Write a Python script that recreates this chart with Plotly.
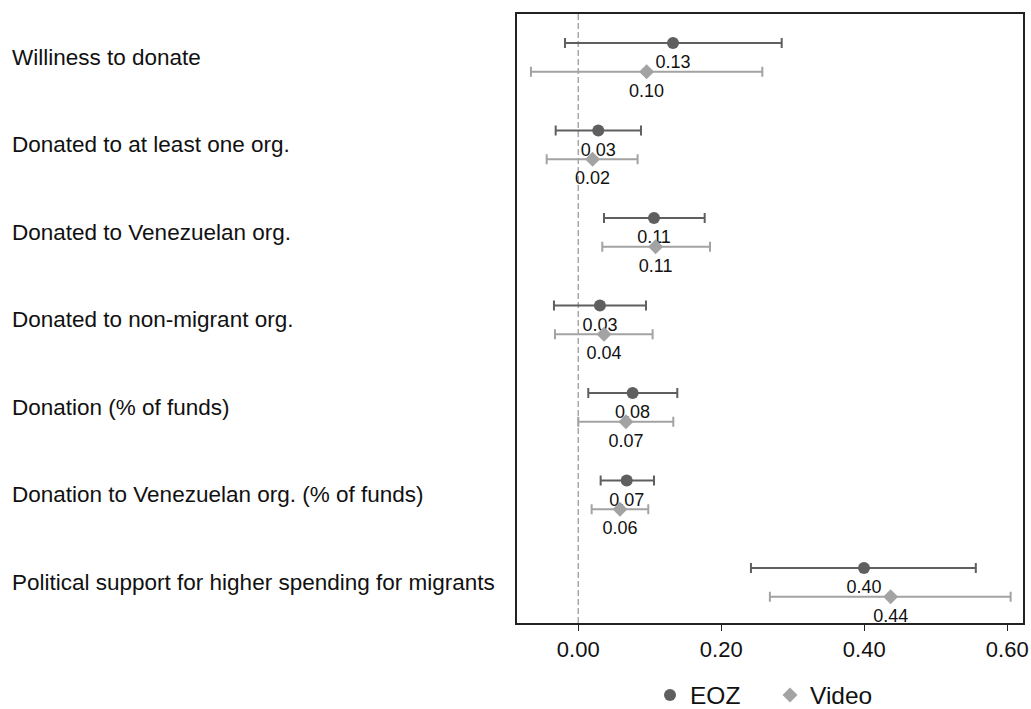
import plotly.graph_objects as go

categories = [
    "Williness to donate",
    "Donated to at least one org.",
    "Donated to Venezuelan org.",
    "Donated to non-migrant org.",
    "Donation (% of funds)",
    "Donation to Venezuelan org. (% of funds)",
    "Political support for higher spending for migrants",
]

eoz_est = [0.1325, 0.028, 0.1059, 0.0303, 0.076, 0.0677, 0.3996]
eoz_lo = [-0.0186, -0.0316, 0.036, -0.034, 0.014, 0.0313, 0.2415]
eoz_hi = [0.2845, 0.0877, 0.1768, 0.0947, 0.1385, 0.1059, 0.556]

vid_est = [0.0956, 0.020, 0.1082, 0.036, 0.0667, 0.0583, 0.4369]
vid_lo = [-0.0662, -0.0442, 0.0336, -0.0326, 0.0, 0.0187, 0.268]
vid_hi = [0.2574, 0.083, 0.1842, 0.104, 0.1329, 0.0979, 0.6047]

tick_vals = [0.0, 0.2, 0.4, 0.6]
tick_text = ["0.00", "0.20", "0.40", "0.60"]

EOZ_COLOR = "#5f5f5f"
VID_COLOR = "#a3a3a3"
FONT = "Liberation Sans, Arial, sans-serif"

n = len(categories)
offset = 0.33
y_eoz = [i for i in range(n)]
y_vid = [i + offset for i in range(n)]

fig = go.Figure()

for name, est, lo, hi, ys, color, symbol, size in [
    ("EOZ", eoz_est, eoz_lo, eoz_hi, y_eoz, EOZ_COLOR, "circle", 12),
    ("Video", vid_est, vid_lo, vid_hi, y_vid, VID_COLOR, "diamond", 11.5),
]:
    fig.add_trace(go.Scatter(
        x=est, y=ys, mode="markers",
        marker=dict(color=color, size=size, symbol=symbol, opacity=0),
        error_x=dict(type="data", symmetric=False,
                     array=[h - e for h, e in zip(hi, est)],
                     arrayminus=[e - l for e, l in zip(est, lo)],
                     color=color, thickness=2, width=5),
        showlegend=False, hoverinfo="skip",
    ))
    fig.add_trace(go.Scatter(
        x=est, y=ys, mode="markers", name=name,
        marker=dict(color=color, size=size, symbol=symbol),
    ))
    fig.add_trace(go.Scatter(
        x=est, y=ys, mode="markers+text",
        marker=dict(size=17, opacity=0),
        text=[f"{v:.2f}" for v in est],
        textposition="bottom center",
        textfont=dict(family=FONT, size=18, color="#111111"),
        showlegend=False, hoverinfo="skip",
    ))

plot_left, plot_right, plot_top, plot_bottom = 517, 1023, 14, 623
W, H = 1031, 709
plot_w = plot_right - plot_left

for i, cat in enumerate(categories):
    fig.add_annotation(
        x=-(plot_left - 10) / plot_w, xref="paper", xanchor="left",
        y=i + offset / 2, yref="y", yanchor="middle",
        text=cat, showarrow=False,
        font=dict(family=FONT, size=22.5, color="#111111"),
    )

fig.add_shape(type="line", x0=0, x1=0, xref="x", y0=0, y1=1, yref="paper",
              line=dict(color="#a8a8a8", width=1.5, dash="6px,3px"), layer="below")

fig.update_layout(
    width=W, height=H, autosize=False,
    margin=dict(l=plot_left, r=W - plot_right, t=plot_top, b=H - plot_bottom),
    plot_bgcolor="white", paper_bgcolor="white",
    font=dict(family=FONT, color="#111111"),
    xaxis=dict(range=[-0.0857, 0.622], tickvals=tick_vals, ticktext=tick_text,
               ticks="outside", ticklen=6, tickwidth=1, tickcolor="#222",
               showgrid=False, zeroline=False, showline=True, linecolor="#222",
               linewidth=1.5, mirror=True, automargin=False,
               tickfont=dict(size=22, color="#111111")),
    yaxis=dict(range=[n - 1 + 0.629, -0.331], showticklabels=False, ticks="",
               showgrid=False, zeroline=False, showline=True, linecolor="#222",
               linewidth=1.5, mirror=True, automargin=False),
    legend=dict(orientation="h", x=0.5, xanchor="center",
                y=1 - 695 / H, yref="container", yanchor="middle",
                font=dict(size=24.5, color="#111111"), itemwidth=30,
                entrywidth=75, entrywidthmode="pixels"),
)

fig.write_html("out.html", config={"displayModeBar": False},
               post_script="document.body.style.margin='0';document.body.style.overflow='hidden';")
